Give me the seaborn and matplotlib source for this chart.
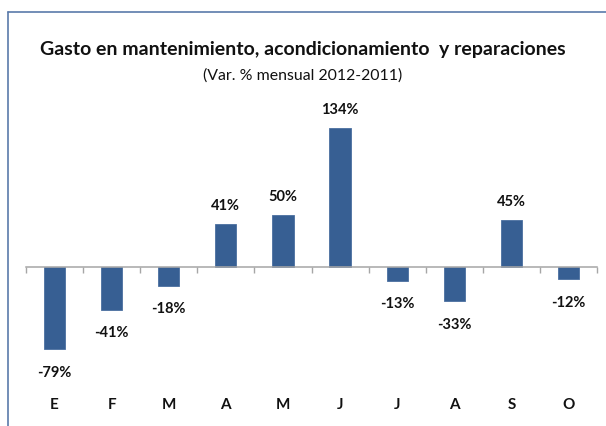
import matplotlib
matplotlib.use("Agg")
import matplotlib.pyplot as plt
import seaborn as sns
import pandas as pd
from matplotlib.lines import Line2D

months = ["E", "F", "M", "A", "M", "J", "J", "A", "S", "O"]
values = [-79, -41, -18, 41, 50, 134, -13, -33, 45, -12]
title = "Gasto en mantenimiento, acondicionamiento  y reparaciones"
subtitle = "(Var. % mensual 2012-2011)"

sns.set_theme(style="white")
plt.rcParams['font.family'] = ['Lato', 'DejaVu Sans']

df = pd.DataFrame({"pos": range(len(months)), "mes": months, "val": values})

W, H = 606, 426
fig = plt.figure(figsize=(W / 100, H / 100), dpi=100)
ax_left, ax_right = 26 / W, 597 / W
ax_bottom, ax_top = (H - 371) / H, (H - 111) / H
ax = fig.add_axes([ax_left, ax_bottom, ax_right - ax_left, ax_top - ax_bottom])

bar_color = "#375F93"
sns.barplot(data=df, x="pos", y="val", color=bar_color, width=0.37,
            saturation=1, ax=ax, order=list(range(len(months))))
for p in ax.patches:
    p.set_edgecolor("#4A6FA0")
    p.set_linewidth(0.6)

ax.set_xlim(-0.5, len(months) - 0.5)
ax.set_ylim(-100, 150)

for s in ["top", "right", "left"]:
    ax.spines[s].set_visible(False)
ax.spines["bottom"].set_position(("data", 0))
ax.spines["bottom"].set_color("#A6A6A6")
ax.spines["bottom"].set_linewidth(1.1)
ax.set_yticks([])
ax.set_xticks([])
ax.set_xticks([i - 0.5 for i in range(len(months) + 1)], minor=True)
ax.tick_params(axis="x", which="minor", direction="out", length=4,
               width=1, color="#A6A6A6", bottom=True)
ax.set_xlabel("")
ax.set_ylabel("")

# data labels
for i, v in enumerate(values):
    off = 13 if v >= 0 else -17
    ax.annotate(f"{v}%", xy=(i, v), xytext=(0, off), textcoords="offset points",
                ha="center", va="center", fontsize=10.5, fontweight="bold", color="#111111")

# category labels at bottom
for i, m in enumerate(months):
    ax.annotate(m, xy=(i, 0), xycoords=("data", "axes fraction"), xytext=(0, -24.5),
                textcoords="offset points", ha="center", va="center",
                fontsize=11, fontweight="bold", color="#111111")

fig.text(0.5, 1 - 49 / H, title, ha="center", va="center", fontsize=14,
         fontweight="bold", color="#111111")
fig.text(0.5, 1 - 76 / H, subtitle, ha="center", va="center", fontsize=11.4,
         color="#111111")

# outer frame (top and left edges visible)
border = "#5A7AAA"
fig.add_artist(Line2D([8 / W, 1.0], [1 - 11.5 / H, 1 - 11.5 / H], transform=fig.transFigure,
                      color=border, linewidth=1.2))
fig.add_artist(Line2D([8 / W, 8 / W], [0, 1 - 11.5 / H], transform=fig.transFigure,
                      color=border, linewidth=1.2))

fig.savefig("out.png", dpi=100)
